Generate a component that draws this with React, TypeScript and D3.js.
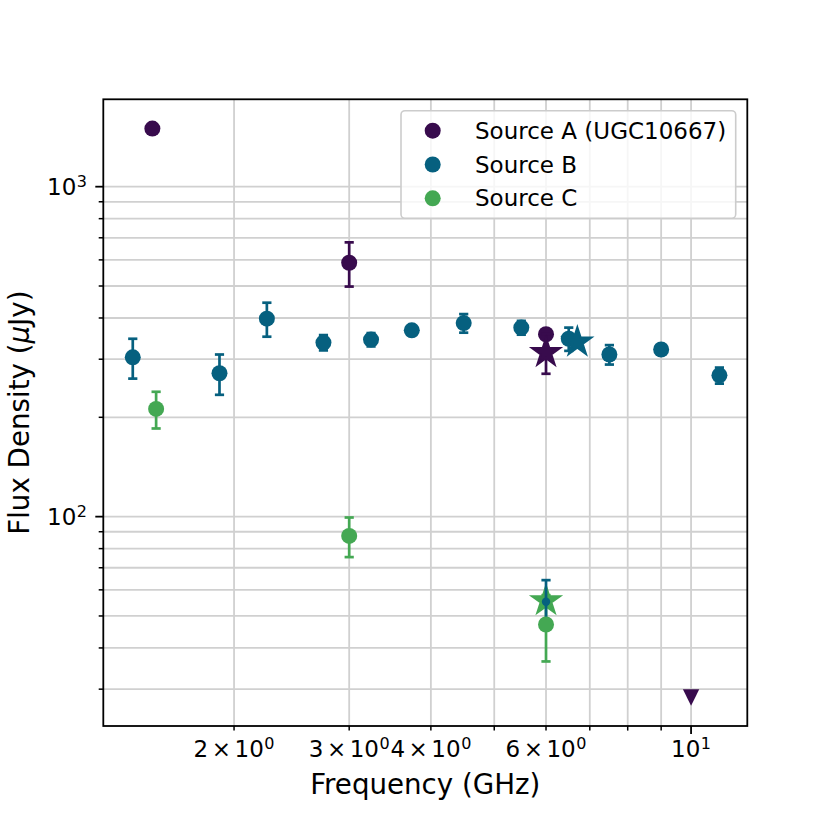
import React from "react";
import * as d3 from "d3";

// ---- data ----
const seriesNames = ["Source A (UGC10667)", "Source B", "Source C"];
const seriesColors = ["#380b4d", "#06607f", "#44a853"];

const aFreq = [1.5, 3.0, 6.0];
const aFlux = [1500, 588, 357];
const aErr = [0, 90, 0];
const aStarFreq = [6.0];
const aStarFlux = [314];
const aStarErr = [43];
const aLimitFreq = [10.0];
const aLimitFlux = [28.3];

const bFreq = [1.4, 1.9, 2.245, 2.74, 3.24, 3.74, 4.49, 5.5, 6.5, 7.5, 9.0, 11.05];
const bFlux = [304, 272, 398, 337, 344, 367, 386, 374, 346, 310, 321, 268];
const bErr = [42, 38, 47, 18, 16, 12, 25, 18, 28, 21, 8, 15];
const bStarFreq = [6.7];
const bStarFlux = [338];
const bLowFreq = [6.0];
const bLowFlux = [55.2];
const bLowErr = [9];

const cFreq = [1.52, 3.0, 6.0];
const cFlux = [212, 87.4, 47.1];
const cErr = [27, 12, 10.7];
const cStarFreq = [6.0];
const cStarFlux = [55.6];

const xMinorTicks = [2, 3, 4, 5, 6, 7, 8, 9];
const xMajorTicks = [10];
const xTickLabels = [
  { v: 2, m: "2", e: "0" },
  { v: 3, m: "3", e: "0" },
  { v: 4, m: "4", e: "0" },
  { v: 6, m: "6", e: "0" },
  { v: 10, m: "", e: "1" },
];
const yMajorTicks = [100, 1000];
const yMinorTicks = [30, 40, 50, 60, 70, 80, 90, 200, 300, 400, 500, 600, 700, 800, 900];
const yTickLabels = [
  { v: 100, m: "10", e: "2" },
  { v: 1000, m: "10", e: "3" },
];

// ---- layout ----
const W = 830;
const H = 830;
const L = 103.3;
const R = 747.3;
const T = 99.3;
const B = 726;
const FONT = "DejaVu Sans, Verdana, sans-serif";

const x = d3.scaleLog().domain([1.262, 12.19]).range([L, R]);
const y = d3.scaleLog().domain([23.2, 1840]).range([B, T]);

const MR = 8; // marker radius
const ELW = 2.7;
const CAP = 4.6;

function starPath(cx: number, cy: number, r: number) {
  const ri = r * 0.381966;
  const pts: [number, number][] = [];
  for (let i = 0; i < 10; i++) {
    const ang = -Math.PI / 2 + (i * Math.PI) / 5;
    const rr = i % 2 === 0 ? r : ri;
    pts.push([cx + rr * Math.cos(ang), cy + rr * Math.sin(ang)]);
  }
  return "M" + pts.map((p) => p.join(",")).join("L") + "Z";
}

function ErrBars({ fx, fy, fe, color }: { fx: number[]; fy: number[]; fe: number[]; color: string }) {
  return (
    <g stroke={color} strokeWidth={ELW} fill="none">
      {fx.map((f, i) => {
        if (!fe[i]) return null;
        const cx = x(f);
        const y1 = y(fy[i] + fe[i]);
        const y2 = y(fy[i] - fe[i]);
        return (
          <g key={i}>
            <line x1={cx} x2={cx} y1={y1} y2={y2} />
            <line x1={cx - CAP} x2={cx + CAP} y1={y1} y2={y1} />
            <line x1={cx - CAP} x2={cx + CAP} y1={y2} y2={y2} />
          </g>
        );
      })}
    </g>
  );
}

function Circles({ fx, fy, color, r = MR }: { fx: number[]; fy: number[]; color: string; r?: number }) {
  return (
    <g fill={color}>
      {fx.map((f, i) => (
        <circle key={i} cx={x(f)} cy={y(fy[i])} r={r} />
      ))}
    </g>
  );
}

function Stars({ fx, fy, color }: { fx: number[]; fy: number[]; color: string }) {
  return (
    <g fill={color} stroke={color} strokeWidth={2.2} strokeLinejoin="miter">
      {fx.map((f, i) => (
        <path key={i} d={starPath(x(f), y(fy[i]), 14.5)} />
      ))}
    </g>
  );
}

export default function App() {
  const gridColor = "#d0d0d0";
  return (
    <svg
      width={W}
      height={H}
      style={{ position: "absolute", left: 0, top: 0, background: "#fff" }}
      fontFamily={FONT}
    >
      <rect x={0} y={0} width={W} height={H} fill="#fff" />
      {/* grid */}
      <g stroke={gridColor} strokeWidth={1.8}>
        {[...xMinorTicks, ...xMajorTicks].map((v) => (
          <line key={"gx" + v} x1={x(v)} x2={x(v)} y1={T} y2={B} />
        ))}
        {[...yMinorTicks, ...yMajorTicks].map((v) => (
          <line key={"gy" + v} x1={L} x2={R} y1={y(v)} y2={y(v)} />
        ))}
      </g>

      {/* Source A */}
      <ErrBars fx={aFreq} fy={aFlux} fe={aErr} color={seriesColors[0]} />
      <Circles fx={aFreq} fy={aFlux} color={seriesColors[0]} />
      <ErrBars fx={aStarFreq} fy={aStarFlux} fe={aStarErr} color={seriesColors[0]} />
      <Stars fx={aStarFreq} fy={aStarFlux} color={seriesColors[0]} />
      <g fill={seriesColors[0]}>
        {aLimitFreq.map((f, i) => {
          const cx = x(f);
          const cy = y(aLimitFlux[i]);
          const s = 8.2;
          return <path key={i} d={`M${cx - s},${cy - s}L${cx + s},${cy - s}L${cx},${cy + s}Z`} />;
        })}
      </g>

      {/* Source B */}
      <ErrBars fx={bFreq} fy={bFlux} fe={bErr} color={seriesColors[1]} />
      <Circles fx={bFreq} fy={bFlux} color={seriesColors[1]} />
      <Stars fx={bStarFreq} fy={bStarFlux} color={seriesColors[1]} />

      {/* Source C */}
      <ErrBars fx={cFreq} fy={cFlux} fe={cErr} color={seriesColors[2]} />
      <Stars fx={cStarFreq} fy={cStarFlux} color={seriesColors[2]} />
      <ErrBars fx={bLowFreq} fy={bLowFlux} fe={bLowErr} color={seriesColors[1]} />
      <Circles fx={bLowFreq} fy={bLowFlux} color={seriesColors[1]} r={4.2} />
      <Circles fx={cFreq} fy={cFlux} color={seriesColors[2]} />

      {/* axes frame */}
      <rect x={L} y={T} width={R - L} height={B - T} fill="none" stroke="#000" strokeWidth={1.8} />

      {/* ticks */}
      <g stroke="#000" strokeWidth={1.5}>
        {xMinorTicks.map((v) => (
          <line key={"xt" + v} x1={x(v)} x2={x(v)} y1={B} y2={B + 4.6} />
        ))}
        {xMajorTicks.map((v) => (
          <line key={"xT" + v} x1={x(v)} x2={x(v)} y1={B} y2={B + 8} strokeWidth={1.8} />
        ))}
        {yMinorTicks.map((v) => (
          <line key={"yt" + v} x1={L} x2={L - 4.6} y1={y(v)} y2={y(v)} />
        ))}
        {yMajorTicks.map((v) => (
          <line key={"yT" + v} x1={L} x2={L - 8} y1={y(v)} y2={y(v)} strokeWidth={1.8} />
        ))}
      </g>

      {/* tick labels */}
      <g fontSize={23} fill="#000">
        {xTickLabels.map((t) =>
          t.m ? (
            <text key={"xl" + t.v} x={x(t.v)} y={757} textAnchor="middle">
              <tspan>{t.m}</tspan>
              <tspan dx={3.5}>×</tspan>
              <tspan dx={3.5}>10</tspan>
              <tspan fontSize={16} dy={-8} dx={0.5}>
                {t.e}
              </tspan>
            </text>
          ) : (
            <text key={"xl" + t.v} x={x(t.v)} y={757} textAnchor="middle">
              <tspan>10</tspan>
              <tspan fontSize={16} dy={-8} dx={0.5}>
                {t.e}
              </tspan>
            </text>
          )
        )}
        {yTickLabels.map((t) => (
          <text key={"yl" + t.v} x={87} y={y(t.v) + 8.6} textAnchor="end">
            {t.m}
            <tspan fontSize={16} dy={-8} dx={0.5}>
              {t.e}
            </tspan>
          </text>
        ))}
      </g>

      {/* axis labels */}
      <text x={(L + R) / 2} y={794} textAnchor="middle" fontSize={27.7} fill="#000">
        Frequency (GHz)
      </text>
      <text
        transform={`translate(28.5,${(T + B) / 2}) rotate(-90)`}
        textAnchor="middle"
        fontSize={27.7}
        fill="#000"
      >
        Flux Density (<tspan fontStyle="italic">μ</tspan>Jy)
      </text>

      {/* legend */}
      <g>
        <rect x={401} y={110.7} width={334.7} height={107.6} rx={4} fill="#fff" fillOpacity={0.8} stroke="#cccccc" strokeWidth={1.6} />
        {seriesNames.map((n, i) => {
          const cy = 130.7 + i * 33.8;
          return (
            <g key={n}>
              <circle cx={432.7} cy={cy} r={MR} fill={seriesColors[i]} />
              <text x={475} y={cy + 8} fontSize={23} fill="#000">
                {n}
              </text>
            </g>
          );
        })}
      </g>
    </svg>
  );
}
